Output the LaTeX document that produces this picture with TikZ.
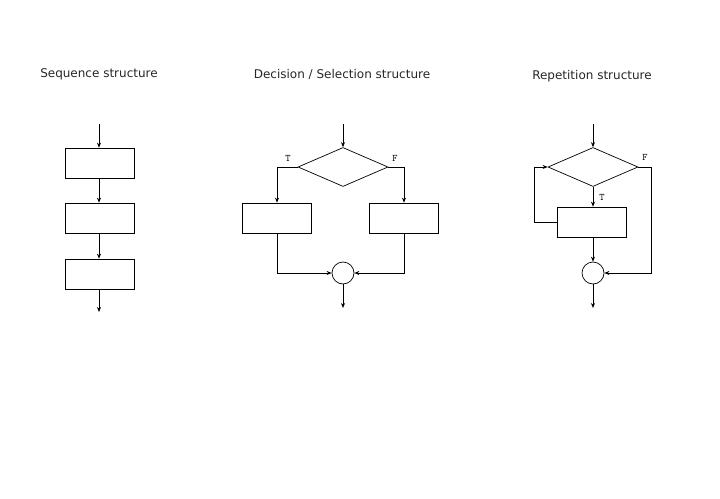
\documentclass[tikz,border=0pt]{standalone}
\usepackage{fontspec}
\usepackage{tikz}
\usetikzlibrary{shapes.geometric,arrows.meta}
\setsansfont{DejaVu Sans}

\tikzset{
  box/.style={draw, rectangle, minimum width=69pt, minimum height=30pt, inner sep=0pt},
  cond/.style={draw, diamond, minimum width=90pt, minimum height=39pt, inner sep=0pt},
  merge/.style={draw, circle, minimum size=22pt, inner sep=0pt},
  title/.style={font=\sffamily\fontsize{12}{14}\selectfont, text=black!85},
  tf/.style={font=\ttfamily\fontsize{10}{11}\selectfont, inner sep=0pt},
  flow/.style={-{Stealth[length=5pt,width=4pt]}}
}

\begin{document}
\begin{tikzpicture}[x=1pt,y=-1pt,line width=0.7pt]
        \useasboundingbox (0,0) rectangle (720,498);
        % Sequence
        \node[title] (seqtitle) at (99,74) {Sequence structure};
        \coordinate (seqin) at (99,124);
        \node[box] (seq1) at (100,163) {};
        \node[box] (seq2) at (100,218) {};
        \node[box] (seq3) at (100,274) {};
        \coordinate (seqout) at (99,312);
        \draw[flow] (seqin) -- (seq1.north -| seqin);
        \draw[flow] (seq1.south -| seqin) -- (seq2.north -| seqin);
        \draw[flow] (seq2.south -| seqin) -- (seq3.north -| seqin);
        \draw[flow] (seq3.south -| seqin) -- (seqout);

        % Decision / Selection
        \node[title] (seltitle) at (342,74) {Decision / Selection structure};
        \coordinate (selin) at (343,124);
        \node[cond] (selcond) at (343,167) {};
        \node[box] (seltrue) at (277,218) {};
        \node[box] (selfalse) at (404,218) {};
        \node[merge] (seljoin) at (343,273) {};
        \coordinate (selout) at (343,308);
        \node[tf] (selT) at (288,158) {T};
        \node[tf] (selF) at (395,158) {F};
        \draw[flow] (selin) -- (selcond.north);
        \draw[flow] (selcond.west) -| (seltrue.north);
        \draw[flow] (selcond.east) -| (selfalse.north);
        \draw[flow] (seltrue.south) |- (seljoin.west);
        \draw[flow] (selfalse.south) |- (seljoin.east);
        \draw[flow] (seljoin.south) -- (selout);

        % Repetition
        \node[title] (reptitle) at (592,76) {Repetition structure};
        \coordinate (repin) at (593,124);
        \node[cond] (repcond) at (593,167) {};
        \node[box] (repbody) at (592,222) {};
        \node[merge] (repjoin) at (593,273) {};
        \coordinate (repout) at (593,308);
        \coordinate (repback) at (534,222);
        \coordinate (repskip) at (651,167);
        \node[tf] (repT) at (602,197) {T};
        \node[tf] (repF) at (645,157) {F};
        \draw[flow] (repin) -- (repcond.north);
        \draw[flow] (repcond.south) -- (repbody.north -| repcond.south);
        \draw[flow] (repbody.west) -- (repback) |- (repcond.west);
        \draw[flow] (repcond.east) -- (repskip) |- (repjoin.east);
        \draw[flow] (repbody.south -| repjoin) -- (repjoin.north);
        \draw[flow] (repjoin.south) -- (repout);
\end{tikzpicture}
\end{document}
